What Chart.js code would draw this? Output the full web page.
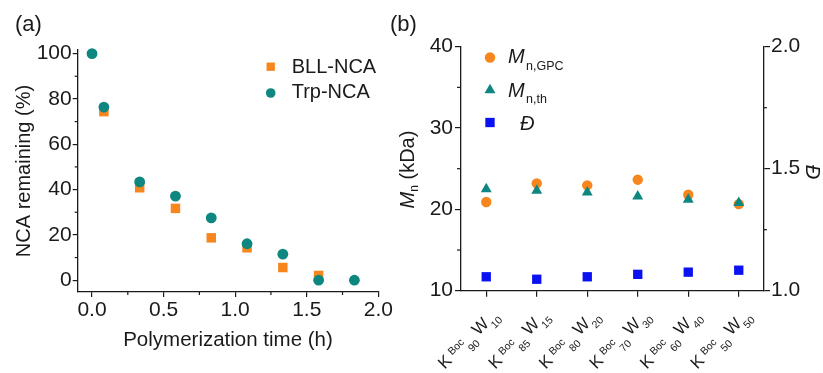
<!DOCTYPE html>
<html>
<head>
<meta charset="utf-8">
<script src="https://cdn.jsdelivr.net/npm/chart.js@4/dist/chart.umd.min.js"></script>
<style>
  html, body { margin: 0; padding: 0; background: #fff; }
  #wrap { position: relative; width: 823px; height: 373px; overflow: hidden; background: #fff; }
  #wrap canvas { position: absolute; top: 0; }
  #chartA { left: 0; }
  #chartB { left: 385px; }
</style>
</head>
<body>
<div id="wrap">
  <canvas id="chartA" width="410" height="373"></canvas>
  <canvas id="chartB" width="438" height="373"></canvas>
</div>
<script>
// ---- (a) NCA consumption during polymerization ----
const timeH          = [0, 0.083, 0.333, 0.583, 0.833, 1.083, 1.333, 1.583, 1.833];
const bllRemaining   = [null, 74.4, 40.8, 31.7, 18.7, 14.3, 5.6, 2.1, null];
const trpRemaining   = [100, 76.4, 43.4, 37.1, 27.5, 16.1, 11.5, 0, 0];
const timeTicks      = [0, 0.5, 1.0, 1.5, 2.0];
const timeMinor      = [0.25, 0.75, 1.25, 1.75];
const remainTicks    = [0, 20, 40, 60, 80, 100];
const remainMinor    = [10, 30, 50, 70, 90];

// ---- (b) K(Boc)x W y copolymers ----
const kSubscripts    = [90, 85, 80, 70, 60, 50];
const wSubscripts    = [10, 15, 20, 30, 40, 50];
const mnGPC          = [20.9, 23.2, 22.95, 23.65, 21.8, 20.65];
const mnTheory       = [22.5, 22.3, 22.1, 21.6, 21.2, 20.8];
const dispersity     = [1.057, 1.047, 1.057, 1.067, 1.076, 1.084];
const mnTicks        = [10, 20, 30, 40];
const mnMinor        = [15, 25, 35];
const dTicks         = [1.0, 1.5, 2.0];
const dMinor         = [1.25, 1.75];

const FAMILY = '"Liberation Sans", Arial, Helvetica, sans-serif';
const INK = '#1a1a1a';
const ORANGE = '#F7861F';
const TEAL = '#0E8780';
const BLUE = '#0A12F2';

function fixedTicks(values) {
  return (scale) => { scale.ticks = values.map(v => ({ value: v })); };
}
function fixedWidth(w) { return (scale) => { scale.width = w; }; }
function fixedHeight(h) { return (scale) => { scale.height = h; }; }

function drawMarker(ctx, style, radius, color, x, y) {
  ctx.save();
  ctx.fillStyle = color;
  Chart.helpers.drawPoint(ctx, { pointStyle: style, radius: radius, rotation: 0, borderWidth: 0 }, x, y);
  ctx.restore();
}

// short minor tick marks on the outer side of each axis
function minorTicks(spec) {
  return {
    id: 'minorTicks',
    afterDraw(chart) {
      const ctx = chart.ctx;
      ctx.save();
      ctx.strokeStyle = INK;
      ctx.lineWidth = 1.2;
      spec.forEach(({ id, values, length }) => {
        const s = chart.scales[id];
        values.forEach(v => {
          const p = s.getPixelForValue(v);
          ctx.beginPath();
          if (s.position === 'bottom') { ctx.moveTo(p, s.top); ctx.lineTo(p, s.top + length); }
          else if (s.position === 'left') { ctx.moveTo(s.right, p); ctx.lineTo(s.right - length, p); }
          else { ctx.moveTo(s.left, p); ctx.lineTo(s.left + length, p); }
          ctx.stroke();
        });
      });
      ctx.restore();
    }
  };
}

function panelLabel(text, x, y) {
  return {
    id: 'panelLabel',
    afterDraw(chart) {
      const ctx = chart.ctx;
      ctx.save();
      ctx.fillStyle = INK;
      ctx.font = '22px ' + FAMILY;
      ctx.textAlign = 'left';
      ctx.textBaseline = 'alphabetic';
      ctx.fillText(text, x, y);
      ctx.restore();
    }
  };
}

// legend of panel (a)
const legendA = {
  id: 'legendA',
  afterDraw(chart) {
    const ctx = chart.ctx;
    const ds = chart.data.datasets;
    drawMarker(ctx, 'rect', 5.9, ds[0].backgroundColor, 270.7, 66.7);
    drawMarker(ctx, 'circle', 4.8, ds[1].backgroundColor, 270.7, 93);
    ctx.save();
    ctx.fillStyle = INK;
    ctx.font = '20px ' + FAMILY;
    ctx.textBaseline = 'alphabetic';
    ctx.fillText(ds[0].label, 291.7, 73.3);
    ctx.fillText(ds[1].label, 291.7, 98.3);
    ctx.restore();
  }
};

const chartA = new Chart(document.getElementById('chartA'), {
  type: 'scatter',
  data: {
    datasets: [
      {
        label: 'BLL-NCA',
        data: timeH.map((t, i) => ({ x: t, y: bllRemaining[i] })),
        pointStyle: 'rect', pointRadius: 6.7, backgroundColor: ORANGE, borderWidth: 0,
        order: 2, clip: false
      },
      {
        label: 'Trp-NCA',
        data: timeH.map((t, i) => ({ x: t, y: trpRemaining[i] })),
        pointStyle: 'circle', pointRadius: 5.4, backgroundColor: TEAL, borderWidth: 0,
        order: 1, clip: false
      }
    ]
  },
  options: {
    responsive: false,
    animation: false,
    devicePixelRatio: 1,
    events: [],
    layout: { padding: { top: 50, right: 31.7, left: 0, bottom: 0 } },
    plugins: { legend: { display: false }, tooltip: { enabled: false } },
    scales: {
      x: {
        type: 'linear', position: 'bottom', min: -0.1, max: 2.0,
        afterBuildTicks: fixedTicks(timeTicks),
        afterFit: fixedHeight(81),
        grid: { drawOnChartArea: false, drawTicks: true, tickLength: 5, color: INK, lineWidth: 1.2 },
        border: { color: INK, width: 1.3 },
        ticks: { padding: 1, color: INK, maxRotation: 0, autoSkip: false,
                 font: { family: FAMILY, size: 21 }, callback: v => v.toFixed(1) },
        title: { display: true, text: 'Polymerization time (h)', color: INK,
                 font: { family: FAMILY, size: 20.5 }, padding: { top: 0, bottom: 20 } }
      },
      y: {
        type: 'linear', position: 'left', min: -5.2, max: 101.6,
        afterBuildTicks: fixedTicks(remainTicks),
        afterFit: fixedWidth(77.7),
        grid: { drawOnChartArea: false, drawTicks: true, tickLength: 5, color: INK, lineWidth: 1.2 },
        border: { color: INK, width: 1.3 },
        ticks: { padding: 1, color: INK, autoSkip: false,
                 font: { family: FAMILY, size: 21 }, callback: v => String(v) },
        title: { display: true, text: 'NCA remaining (%)', color: INK,
                 font: { family: FAMILY, size: 20 }, padding: { top: 12, bottom: 0 } }
      }
    }
  },
  plugins: [
    minorTicks([
      { id: 'x', values: timeMinor, length: 3 },
      { id: 'y', values: remainMinor, length: 3 }
    ]),
    legendA,
    panelLabel('(a)', 15, 31)
  ]
});

// ---- panel (b) rich-text pieces ----
const legendBItems = [
  { main: 'M', sub: 'n,GPC' },
  { main: 'M', sub: 'n,th' },
  { main: 'Đ', sub: '' }
];

const decorB = {
  id: 'decorB',
  afterDraw(chart) {
    const ctx = chart.ctx;
    const ds = chart.data.datasets;

    // legend
    drawMarker(ctx, ds[0].pointStyle, 5.2, ds[0].backgroundColor, 105, 57.5);
    drawMarker(ctx, ds[1].pointStyle, 6.3, ds[1].backgroundColor, 105, 90);
    drawMarker(ctx, ds[2].pointStyle, 6.6, ds[2].backgroundColor, 105, 122.5);
    ctx.save();
    ctx.fillStyle = INK;
    ctx.textAlign = 'left';
    ctx.textBaseline = 'alphabetic';
    ctx.font = 'italic 20px ' + FAMILY;
    ctx.fillText(legendBItems[0].main, 123, 63.3);
    ctx.fillText(legendBItems[1].main, 123, 96.7);
    ctx.fillText(legendBItems[2].main, 135, 130);
    ctx.font = '12.5px ' + FAMILY;
    ctx.fillText(legendBItems[0].sub, 141, 69.5);
    ctx.fillText(legendBItems[1].sub, 141, 102.5);
    ctx.restore();

    // left axis title: M_n (kDa)
    ctx.save();
    ctx.fillStyle = INK;
    ctx.translate(28.5, 169.5);
    ctx.rotate(-Math.PI / 2);
    ctx.textAlign = 'left';
    ctx.textBaseline = 'alphabetic';
    ctx.font = 'italic 20px ' + FAMILY;
    const wM = ctx.measureText('M').width;
    ctx.font = '12px ' + FAMILY;
    const wn = ctx.measureText('n').width;
    ctx.font = '20px ' + FAMILY;
    const wr = ctx.measureText(' (kDa)').width;
    let x0 = -(wM + wn + wr) / 2;
    ctx.font = 'italic 20px ' + FAMILY;
    ctx.fillText('M', x0, 0);
    x0 += wM;
    ctx.font = '12px ' + FAMILY;
    ctx.fillText('n', x0, 4);
    x0 += wn;
    ctx.font = '20px ' + FAMILY;
    ctx.fillText(' (kDa)', x0, 0);
    ctx.restore();

    // right axis title: Đ, reading downwards
    ctx.save();
    ctx.fillStyle = INK;
    ctx.translate(427, 172);
    ctx.rotate(Math.PI / 2);
    ctx.textAlign = 'center';
    ctx.textBaseline = 'middle';
    ctx.font = 'italic 20px ' + FAMILY;
    ctx.fillText(legendBItems[2].main, 0, 0);
    ctx.restore();

    // category labels: K^Boc_k W_w, slanted
    const sx = chart.scales.x;
    ctx.save();
    ctx.fillStyle = INK;
    ctx.textAlign = 'center';
    ctx.textBaseline = 'middle';
    kSubscripts.forEach((k, i) => {
      const px = sx.getPixelForTick(i);
      ctx.save();
      ctx.translate(px - 5.5, 327);
      ctx.rotate(-Math.PI / 4);
      const parts = [
        ['K', 17, -50, 0],
        ['Boc', 10.5, -31.5, -3],
        [String(k), 10.5, -18, 9],
        ['W', 17, 0, 0],
        [String(wSubscripts[i]), 10.5, 14.5, 8.5]
      ];
      parts.forEach(([t, size, dx, dy]) => {
        ctx.font = size + 'px ' + FAMILY;
        ctx.fillText(t, dx, dy);
      });
      ctx.restore();
    });
    ctx.restore();
  }
};

const chartB = new Chart(document.getElementById('chartB'), {
  type: 'line',
  data: {
    labels: kSubscripts.map((k, i) => 'K' + k + 'W' + wSubscripts[i]),
    datasets: [
      {
        label: 'Mn,GPC', data: mnGPC, yAxisID: 'y',
        showLine: false, pointStyle: 'circle', pointRadius: 5.2,
        backgroundColor: ORANGE, borderColor: ORANGE, borderWidth: 0, order: 3, clip: false
      },
      {
        label: 'Mn,th', data: mnTheory, yAxisID: 'y',
        showLine: false, pointStyle: 'triangle', pointRadius: 6.3,
        backgroundColor: TEAL, borderColor: TEAL, borderWidth: 0, order: 2, clip: false
      },
      {
        label: 'Đ', data: dispersity, yAxisID: 'y2',
        showLine: false, pointStyle: 'rect', pointRadius: 6.6,
        backgroundColor: BLUE, borderColor: BLUE, borderWidth: 0, order: 1, clip: false
      }
    ]
  },
  options: {
    responsive: false,
    animation: false,
    devicePixelRatio: 1,
    events: [],
    layout: { padding: { top: 46.7, right: 0, left: 0, bottom: 0 } },
    plugins: { legend: { display: false }, tooltip: { enabled: false } },
    scales: {
      x: {
        type: 'category', position: 'bottom', offset: true,
        afterFit: fixedHeight(82.3),
        grid: { offset: false, drawOnChartArea: false, drawTicks: true, tickLength: 6, color: INK, lineWidth: 1.2 },
        border: { color: INK, width: 1.3 },
        ticks: { display: false, autoSkip: false }
      },
      y: {
        type: 'linear', position: 'left', min: 10, max: 40,
        afterBuildTicks: fixedTicks(mnTicks),
        afterFit: fixedWidth(76),
        grid: { drawOnChartArea: false, drawTicks: true, tickLength: 6, color: INK, lineWidth: 1.2 },
        border: { color: INK, width: 1.3 },
        ticks: { padding: 2, color: INK, autoSkip: false,
                 font: { family: FAMILY, size: 21 }, callback: v => String(v) }
      },
      y2: {
        type: 'linear', position: 'right', min: 1.0, max: 2.0,
        afterBuildTicks: fixedTicks(dTicks),
        afterFit: fixedWidth(59),
        grid: { drawOnChartArea: false, drawTicks: true, tickLength: 6, color: INK, lineWidth: 1.2 },
        border: { color: INK, width: 1.3 },
        ticks: { padding: 1, color: INK, autoSkip: false,
                 font: { family: FAMILY, size: 21 }, callback: v => v.toFixed(1) }
      }
    }
  },
  plugins: [
    minorTicks([
      { id: 'y', values: mnMinor, length: 4 },
      { id: 'y2', values: dMinor, length: 3 }
    ]),
    decorB,
    panelLabel('(b)', 5, 31)
  ]
});
</script>
</body>
</html>
